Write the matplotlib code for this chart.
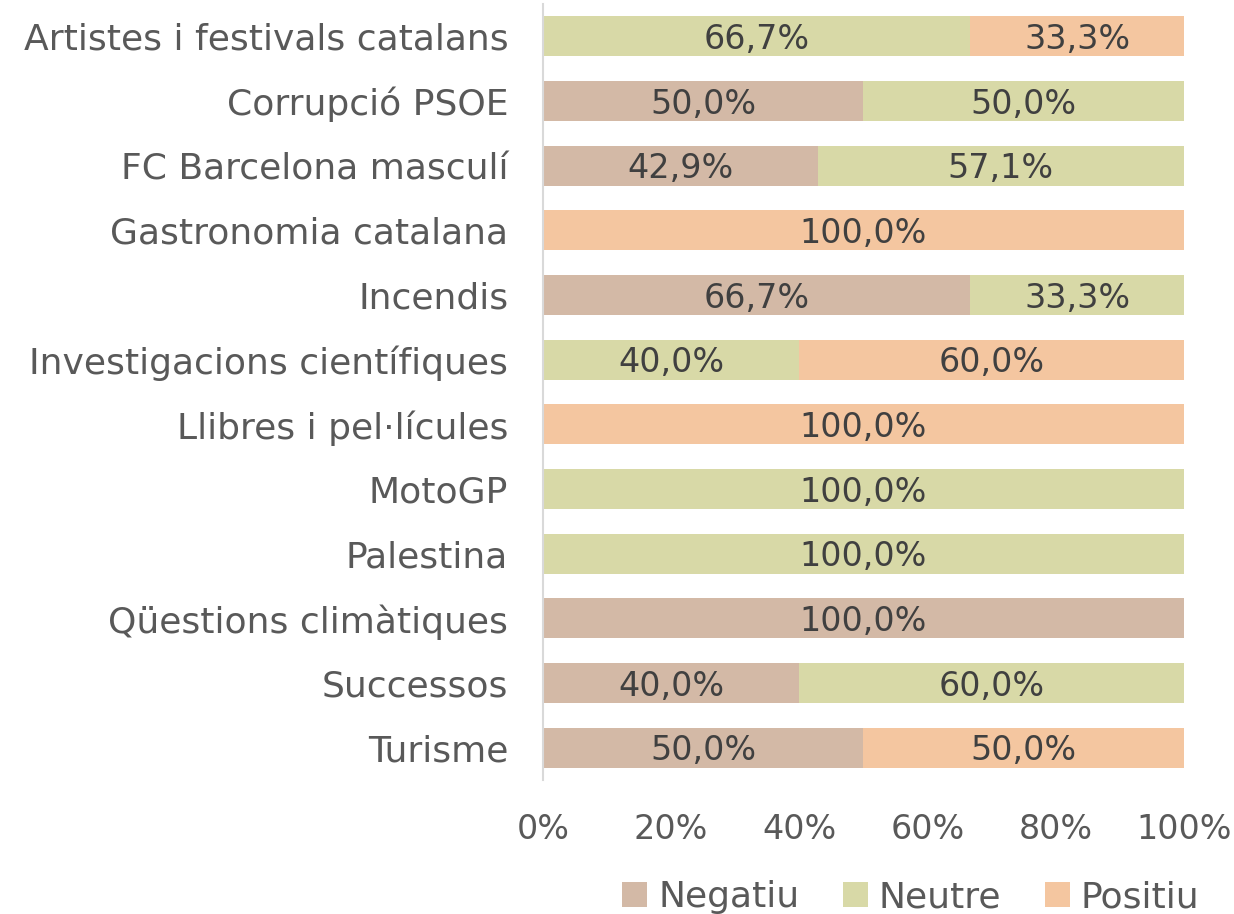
import numpy as np
import matplotlib.pyplot as plt

categories = ["Artistes i festivals catalans", "Corrupció PSOE", "FC Barcelona masculí",
              "Gastronomia catalana", "Incendis", "Investigacions científiques",
              "Llibres i pel·lícules", "MotoGP", "Palestina", "Qüestions climàtiques",
              "Successos", "Turisme"]
negatiu = [0.0, 50.0, 42.9, 0.0, 66.7, 0.0, 0.0, 0.0, 0.0, 100.0, 40.0, 50.0]
neutre = [66.7, 50.0, 57.1, 0.0, 33.3, 40.0, 0.0, 100.0, 100.0, 0.0, 60.0, 0.0]
positiu = [33.3, 0.0, 0.0, 100.0, 0.0, 60.0, 100.0, 0.0, 0.0, 0.0, 0.0, 50.0]

series = [("Negatiu", negatiu, "#D3B9A6"),
          ("Neutre", neutre, "#D8D9A7"),
          ("Positiu", positiu, "#F4C6A0")]

plt.rcParams['font.family'] = ['DejaVu Sans']

fig = plt.figure(figsize=(12.34, 9.14), dpi=100)
ax = fig.add_axes([0.44, 0.1466, 0.5194, 0.849])

y = np.arange(len(categories))
left = np.zeros(len(categories))
for name, vals, color in series:
    vals = np.array(vals)
    ax.barh(y, vals, left=left, height=0.62, color=color, label=name)
    for yi, l, v in zip(y, left, vals):
        if v > 0:
            ax.text(l + v / 2, yi + 0.05, f"{v:.1f}%".replace(".", ","), ha="center", va="center",
                    fontsize=24, color="#404040")
    left += vals

ax.set_ylim(len(categories) - 0.5, -0.5)
ax.set_xlim(0, 100)
ax.set_yticks(y)
ax.set_yticklabels(categories, fontsize=26, color="#595959")
ax.set_xticks([0, 20, 40, 60, 80, 100])
ax.set_xticklabels([f"{t}%" for t in [0, 20, 40, 60, 80, 100]], fontsize=24, color="#595959")
ax.tick_params(length=0)
ax.tick_params(axis="y", pad=25)
ax.tick_params(axis="x", pad=24)
for s in ["top", "right", "bottom"]:
    ax.spines[s].set_visible(False)
ax.spines["left"].set_color("#D9D9D9")
ax.spines["left"].set_linewidth(1.5)

fig.legend(loc="lower center", bbox_to_anchor=(0.738, -0.036), ncol=3, frameon=False,
           fontsize=26, handlelength=0.7, handleheight=0.7, handletextpad=0.3,
           columnspacing=1.2, labelcolor="#595959")

fig.savefig("out.png", dpi=100)
